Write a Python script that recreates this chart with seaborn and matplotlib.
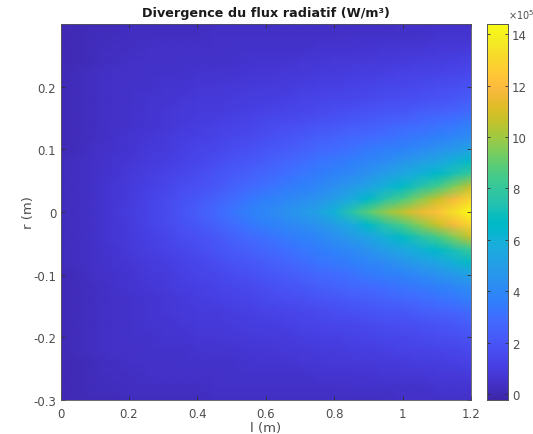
import numpy as np
import matplotlib
matplotlib.use('Agg')
import matplotlib.pyplot as plt
import seaborn as sns
from matplotlib.colors import LinearSegmentedColormap

# axis positions of the read-off grid
l_values = [0, .05, .1, .15, .2, .25, .3, .35, .4, .45, .5, .55, .6, .65, .7, .75, .8, .85, .9, .95, 1.0, 1.05, 1.1, 1.15, 1.2]
r_values = [.3, .28, .26, .24, .22, .2, .18, .16, .14, .12, .1, .08, .06, .04, .02, 0]

# values (x 1e5), upper half, r = 0.3 down to r = 0
div_upper = [
    [.0, .1, .1, .1, .2, .2, .2, .2, .2, .3, .3, .3, .3, .3, .3, .3, .3, .3, .3, .3, .4, .4, .4, .4, .4],
    [.0, .1, .2, .2, .3, .3, .3, .3, .3, .4, .4, .4, .4, .4, .4, .4, .4, .5, .5, .5, .5, .5, .6, .6, .6],
    [.0, .1, .2, .3, .3, .4, .4, .4, .4, .4, .5, .5, .5, .5, .5, .6, .6, .6, .6, .7, .7, .7, .8, .8, .9],
    [.0, .1, .2, .3, .4, .4, .4, .5, .5, .5, .5, .6, .6, .6, .7, .7, .8, .8, .8, .9, .9, 1.0, 1.0, 1.1, 1.2],
    [.1, .2, .3, .4, .4, .5, .5, .5, .6, .6, .6, .7, .7, .8, .8, .9, .9, 1.0, 1.0, 1.1, 1.2, 1.2, 1.3, 1.4, 1.5],
    [.1, .2, .3, .4, .5, .5, .6, .6, .7, .7, .8, .8, .9, .9, 1.0, 1.1, 1.1, 1.2, 1.3, 1.4, 1.4, 1.5, 1.6, 1.7, 1.9],
    [.1, .2, .3, .4, .5, .6, .6, .7, .8, .8, .9, 1.0, 1.0, 1.1, 1.2, 1.3, 1.4, 1.4, 1.5, 1.6, 1.7, 1.8, 1.9, 2.1, 2.3],
    [.1, .2, .3, .4, .5, .6, .7, .8, .9, .9, 1.0, 1.1, 1.2, 1.3, 1.4, 1.5, 1.6, 1.8, 1.9, 2.0, 2.1, 2.3, 2.4, 2.6, 2.9],
    [.1, .2, .3, .4, .5, .6, .7, .8, 1.0, 1.1, 1.2, 1.3, 1.5, 1.6, 1.7, 1.9, 2.0, 2.2, 2.3, 2.5, 2.7, 2.9, 3.1, 3.3, 3.6],
    [.1, .2, .3, .5, .6, .7, .8, 1.0, 1.1, 1.2, 1.4, 1.5, 1.7, 1.9, 2.1, 2.3, 2.5, 2.7, 2.8, 3.0, 3.2, 3.4, 3.6, 3.9, 4.2],
    [.1, .2, .4, .5, .6, .8, .9, 1.1, 1.3, 1.4, 1.6, 1.8, 2.0, 2.2, 2.4, 2.7, 2.9, 3.1, 3.4, 3.6, 3.8, 4.1, 4.4, 4.7, 5.2],
    [.2, .3, .4, .6, .7, .9, 1.0, 1.2, 1.4, 1.6, 1.9, 2.1, 2.3, 2.6, 2.9, 3.2, 3.4, 3.6, 3.9, 4.2, 4.6, 5.0, 5.4, 6.0, 6.8],
    [.2, .3, .4, .6, .8, 1.0, 1.2, 1.4, 1.6, 1.9, 2.2, 2.4, 2.7, 3.0, 3.3, 3.5, 3.8, 4.1, 4.5, 5.0, 5.5, 6.0, 6.6, 7.3, 8.2],
    [.2, .3, .5, .7, .9, 1.1, 1.3, 1.6, 1.8, 2.1, 2.5, 2.8, 3.1, 3.4, 3.7, 3.9, 4.3, 4.8, 5.3, 6.0, 6.7, 7.5, 8.4, 9.5, 10.7],
    [.2, .3, .5, .7, .9, 1.2, 1.5, 1.8, 2.1, 2.5, 2.9, 3.3, 3.7, 3.9, 4.2, 4.5, 5.0, 5.7, 6.6, 7.6, 8.6, 9.6, 10.7, 11.8, 13.0],
    [.2, .3, .5, .7, 1.0, 1.2, 1.5, 1.9, 2.3, 2.7, 3.2, 3.7, 4.0, 4.3, 4.7, 5.2, 6.0, 7.5, 8.8, 9.8, 10.6, 11.5, 12.2, 13.3, 14.4],
]

l_ticks = [0, .2, .4, .6, .8, 1, 1.2]
l_tick_labels = ['0', '0.2', '0.4', '0.6', '0.8', '1', '1.2']
r_ticks = [.2, .1, 0, -.1, -.2, -.3]
r_tick_labels = ['0.2', '0.1', '0', '-0.1', '-0.2', '-0.3']
cbar_ticks = [0, 2, 4, 6, 8, 10, 12, 14]

parula_colors = [
    [0.2422, 0.1504, 0.6603], [0.2504, 0.1650, 0.7076], [0.2578, 0.1818, 0.7511], [0.2647, 0.1978, 0.7952],
    [0.2706, 0.2147, 0.8364], [0.2751, 0.2342, 0.8710], [0.2783, 0.2559, 0.8991], [0.2803, 0.2782, 0.9221],
    [0.2813, 0.3006, 0.9414], [0.2810, 0.3228, 0.9579], [0.2795, 0.3447, 0.9717], [0.2760, 0.3667, 0.9829],
    [0.2699, 0.3892, 0.9906], [0.2602, 0.4123, 0.9952], [0.2440, 0.4358, 0.9988], [0.2206, 0.4603, 0.9973],
    [0.1963, 0.4847, 0.9892], [0.1834, 0.5074, 0.9798], [0.1786, 0.5289, 0.9682], [0.1764, 0.5499, 0.9520],
    [0.1687, 0.5703, 0.9359], [0.1540, 0.5902, 0.9218], [0.1460, 0.6091, 0.9079], [0.1380, 0.6276, 0.8973],
    [0.1248, 0.6459, 0.8883], [0.1113, 0.6635, 0.8763], [0.0952, 0.6798, 0.8598], [0.0689, 0.6948, 0.8394],
    [0.0297, 0.7082, 0.8163], [0.0036, 0.7203, 0.7917], [0.0067, 0.7312, 0.7660], [0.0433, 0.7411, 0.7394],
    [0.0964, 0.7500, 0.7120], [0.1408, 0.7584, 0.6842], [0.1717, 0.7670, 0.6554], [0.1938, 0.7758, 0.6251],
    [0.2161, 0.7843, 0.5923], [0.2470, 0.7918, 0.5567], [0.2906, 0.7973, 0.5188], [0.3406, 0.8008, 0.4789],
    [0.3909, 0.8029, 0.4354], [0.4456, 0.8024, 0.3909], [0.5044, 0.7993, 0.3480], [0.5616, 0.7942, 0.3045],
    [0.6174, 0.7876, 0.2612], [0.6720, 0.7793, 0.2227], [0.7242, 0.7698, 0.1910], [0.7738, 0.7598, 0.1646],
    [0.8203, 0.7498, 0.1535], [0.8634, 0.7406, 0.1596], [0.9035, 0.7330, 0.1774], [0.9393, 0.7288, 0.2100],
    [0.9728, 0.7298, 0.2394], [0.9956, 0.7434, 0.2371], [0.9970, 0.7659, 0.2199], [0.9952, 0.7893, 0.2028],
    [0.9892, 0.8136, 0.1885], [0.9786, 0.8386, 0.1766], [0.9676, 0.8639, 0.1643], [0.9610, 0.8890, 0.1537],
    [0.9597, 0.9135, 0.1423], [0.9628, 0.9373, 0.1265], [0.9691, 0.9606, 0.1064], [0.9769, 0.9839, 0.0805],
]
parula = LinearSegmentedColormap.from_list('parula', parula_colors, N=256)

W, H = 533, 435
TXT = '#4d4d4d'

# the field is symmetric about r = 0, mirror the upper half
upper = np.array(div_upper)
field = np.vstack([upper, upper[-2::-1]])

fig = plt.figure(figsize=(W / 100, H / 100), dpi=100)
ax = fig.add_axes([60.5 / W, 1 - 401 / H, 410.5 / W, 376 / H])
cax = fig.add_axes([487 / W, 1 - 401 / H, 21 / W, 376 / H])

sns.heatmap(field, ax=ax, cbar_ax=cax, cmap=parula, vmin=-0.23, vmax=14.4,
            shading='gouraud', xticklabels=False, yticklabels=False)

# grid nodes sit on integer indices, so map l and r onto them
nx = len(l_values) - 1
ny = field.shape[0] - 1
ax.set_xlim(0, nx)
ax.set_ylim(ny, 0)
ax.set_xticks([v / 1.2 * nx for v in l_ticks])
ax.set_xticklabels(l_tick_labels)
ax.set_yticks([(.3 - v) / .6 * ny for v in r_ticks])
ax.set_yticklabels(r_tick_labels)
ax.tick_params(direction='in', length=3, width=0.6, color='#303030', labelcolor=TXT,
               labelsize=8.5, top=True, right=True, pad=3)
ax.tick_params(axis='x', labelbottom=True, labelrotation=0, pad=5)
ax.tick_params(axis='y', labelleft=True, labelrotation=0)
for s in ax.spines.values():
    s.set_visible(True)
    s.set_color('#555555')
    s.set_linewidth(0.6)

ax.set_xlabel('l (m)', fontsize=9.5, color=TXT, labelpad=1)
ax.set_ylabel('r (m)', fontsize=9.5, color=TXT, labelpad=-1)
ax.set_title('Divergence du flux radiatif (W/m³)', fontsize=9.2, fontweight='bold', color='#1a1a1a', pad=6)

cax.set_yticks(cbar_ticks)
cax.tick_params(direction='in', length=2, width=0.6, color='#303030', labelcolor=TXT, labelsize=8.5,
                pad=3, left=True, right=True)
for s in cax.spines.values():
    s.set_visible(True)
    s.set_color('#555555')
    s.set_linewidth(0.6)
fig.text(508 / W, 1 - 15 / H, r'$\times$10$^5$', fontsize=7, color=TXT, va='center', ha='left')

fig.savefig('out.png', dpi=100)
